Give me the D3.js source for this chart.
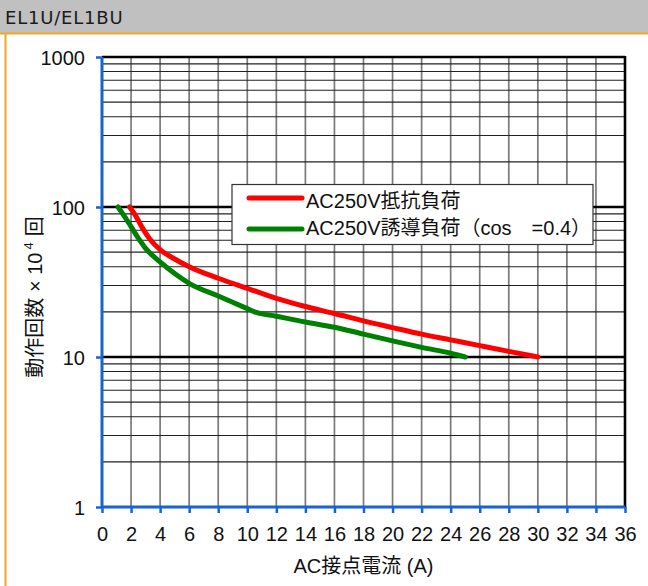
<!DOCTYPE html>
<html>
<head>
<meta charset="utf-8">
<script src="https://cdn.jsdelivr.net/npm/d3@7"></script>
<style>
  html, body { margin: 0; padding: 0; background: #fff; }
  svg { display: block; }
  text { font-family: Arial, "Liberation Sans", "Noto Sans CJK JP", sans-serif; fill: #111; }
</style>
</head>
<body>
<svg id="chart" width="648" height="586"></svg>
<script>
// Contact life curves for EL1U / EL1BU relays
const title = "EL1U/EL1BU";
const xTicks = [0, 2, 4, 6, 8, 10, 12, 14, 16, 18, 20, 22, 24, 26, 28, 30, 32, 34, 36];
const yTicks = [1, 10, 100, 1000];

// AC250V resistive load: current (A) vs operations (x10^4)
const resistiveCurrent = [1.9, 2.3, 2.8, 3.3, 4, 5, 6, 8, 10, 12, 14, 16, 18, 20, 22, 24, 26, 28, 30];
const resistiveOps     = [100, 88, 72, 61, 52, 45, 40, 33.5, 28.7, 24.6, 21.7, 19.5, 17.4, 15.7, 14.2, 13.0, 11.9, 10.9, 10];

// AC250V inductive load (cos φ = 0.4)
const inductiveCurrent = [1.1, 1.5, 2, 2.5, 3, 4, 5, 6, 8, 10, 10.5, 12, 14, 16, 18, 20, 22, 24, 25];
const inductiveOps     = [100, 88, 74, 62, 53, 43, 36, 31, 25.5, 21, 20, 18.7, 17.1, 15.8, 14.2, 12.8, 11.6, 10.6, 10];

const legendLabels = ["AC250V抵抗負荷", "AC250V誘導負荷（cos\u3000=0.4）"];
const seriesColors = ["#ff0000", "#008000"];

const svg = d3.select("#chart");
const W = 648, H = 586;
const FS = 20;

// header bar and frame
svg.append("rect").attr("x", 0).attr("y", 0).attr("width", W).attr("height", 33).attr("fill", "#c0c0c0");
svg.append("text").attr("x", 5).attr("y", 24).attr("font-size", 18).attr("letter-spacing", 0.8)
  .style("font-family", "'DejaVu Sans', sans-serif").style("fill", "#1a1a1a").text(title);
svg.append("line").attr("x1", 0).attr("x2", W).attr("y1", 33.5).attr("y2", 33.5)
  .attr("stroke", "#f5a623").attr("stroke-width", 2);
svg.append("line").attr("x1", 5.5).attr("x2", 5.5).attr("y1", 33).attr("y2", H)
  .attr("stroke", "#f5a623").attr("stroke-width", 2);

const plotL = 102, plotR = 625, plotT = 57, plotB = 507;
const x = d3.scaleLinear().domain([0, 36]).range([plotL, plotR]);
const y = d3.scaleLog().domain([1, 1000]).range([plotB, plotT]);

// vertical grid every 2 A
const g = svg.append("g");
g.selectAll(".vg").data(xTicks.slice(1, -1)).enter().append("line")
  .attr("x1", d => x(d)).attr("x2", d => x(d)).attr("y1", plotT).attr("y2", plotB)
  .attr("stroke", "#7a7a7a").attr("stroke-width", 1.7);

// horizontal minor grid (2..9 within each decade)
const minor = [];
[1, 10, 100].forEach(dec => { for (let k = 2; k <= 9; k++) minor.push(dec * k); });
g.selectAll(".hg").data(minor).enter().append("line")
  .attr("x1", plotL).attr("x2", plotR).attr("y1", d => y(d)).attr("y2", d => y(d))
  .attr("stroke", "#222").attr("stroke-width", 1.1);
// decade lines
g.selectAll(".hd").data([10, 100, 1000]).enter().append("line")
  .attr("x1", plotL).attr("x2", plotR).attr("y1", d => y(d)).attr("y2", d => y(d))
  .attr("stroke", "#000").attr("stroke-width", 2.6);
// right border
g.append("line").attr("x1", plotR).attr("x2", plotR).attr("y1", plotT - 1).attr("y2", plotB)
  .attr("stroke", "#000").attr("stroke-width", 2.6);

// curves
const line = d3.line().x(d => x(d[0])).y(d => y(d[1])).curve(d3.curveMonotoneX);
const series = [
  d3.zip(resistiveCurrent, resistiveOps),
  d3.zip(inductiveCurrent, inductiveOps)
];
svg.selectAll(".curve").data(series).enter().append("path")
  .attr("d", line).attr("fill", "none")
  .attr("stroke", (d, i) => seriesColors[i]).attr("stroke-width", 5)
  .attr("stroke-linecap", "round");

// axes
const blue = "#1565d0";
const xAxis = svg.append("g").attr("transform", `translate(0,${plotB})`)
  .call(d3.axisBottom(x).tickValues(xTicks).tickSize(6).tickPadding(14).tickFormat(d3.format("d")));
const yAxis = svg.append("g").attr("transform", `translate(${plotL},0)`)
  .call(d3.axisLeft(y).tickValues(yTicks).tickSize(6).tickPadding(11).tickFormat(d3.format("d")));
[xAxis, yAxis].forEach(a => {
  a.select(".domain").attr("stroke", blue).attr("stroke-width", 3);
  a.selectAll(".tick line").attr("stroke", blue).attr("stroke-width", 2.5);
  a.selectAll(".tick text").attr("font-size", FS).attr("fill", "#111")
    .style("font-family", "Arial, 'Liberation Sans', sans-serif");
});
xAxis.select(".domain").attr("d", `M${plotL},0H${plotR}`);
yAxis.select(".domain").attr("d", `M0,${plotB}V${plotT}`);
yAxis.selectAll(".tick text").attr("dy", "0.36em");

// axis titles
svg.append("text").attr("x", (plotL + plotR) / 2).attr("y", 573).attr("text-anchor", "middle")
  .attr("font-size", FS).text("AC接点電流 (A)");

const yl = svg.append("text").attr("transform", "translate(42,297) rotate(-90)")
  .attr("text-anchor", "middle").attr("font-size", FS);
yl.append("tspan").text("動作回数 × 10");
yl.append("tspan").attr("font-size", 13).attr("dx", 3).attr("dy", -9).text("4");
yl.append("tspan").attr("dx", 6).attr("dy", 9).text("回");

// legend
const lg = svg.append("g");
lg.append("rect").attr("x", 232).attr("y", 184.5).attr("width", 361).attr("height", 60)
  .attr("fill", "#fff").attr("stroke", "#333").attr("stroke-width", 1.2);
const legendLineY = [198, 229];
const legendTextY = [208, 235];
legendLabels.forEach((lab, i) => {
  lg.append("line").attr("x1", 249).attr("x2", 302).attr("y1", legendLineY[i]).attr("y2", legendLineY[i])
    .attr("stroke", seriesColors[i]).attr("stroke-width", 5).attr("stroke-linecap", "round");
  lg.append("text").attr("x", 306).attr("y", legendTextY[i]).attr("font-size", FS).text(lab);
});
</script>
</body>
</html>
